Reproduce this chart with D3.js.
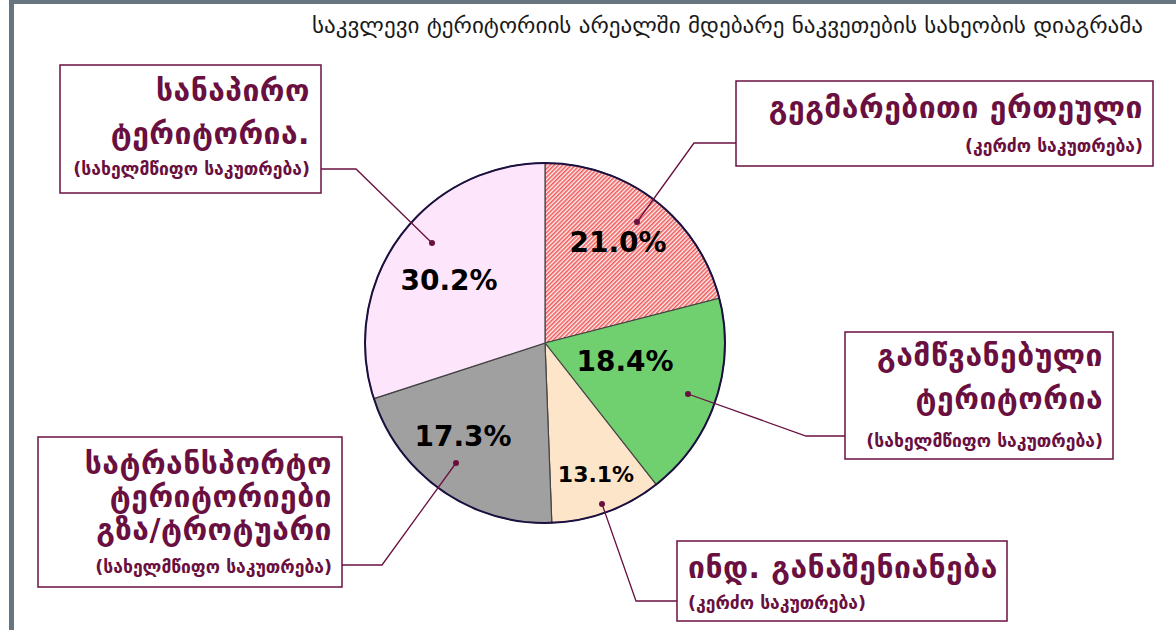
<!DOCTYPE html>
<html>
<head>
<meta charset="utf-8">
<script src="https://cdn.jsdelivr.net/npm/d3@7"></script>
<style>
  body { margin: 0; background: #fff; }
  svg { display: block; font-family: "DejaVu Sans", sans-serif; }
</style>
</head>
<body>
<script>
// chart data, clockwise from 12 o'clock
var categories = ["გეგმარებითი ერთეული", "გამწვანებული ტერიტორია", "ინდ. განაშენიანება",
                  "სატრანსპორტო ტერიტორიები", "სანაპირო ტერიტორია"];
var shares = [21.0, 18.4, 10.0, 20.6, 30.0];   // slice sizes as drawn
var pctLabels = ["21.0%", "18.4%", "13.1%", "17.3%", "30.2%"];
var sliceColors = ["url(#hatch)", "#70d070", "#fde5c9", "#a0a0a0", "#fde6fb"];

var titleText = "საკვლევი ტერიტორიის არეალში მდებარე ნაკვეთების სახეობის დიაგრამა";

var boxTitles = [
  ["გეგმარებითი ერთეული"],
  ["გამწვანებული", "ტერიტორია"],
  ["ინდ. განაშენიანება"],
  ["სატრანსპორტო", "ტერიტორიები", "გზა/ტროტუარი"],
  ["სანაპირო", "ტერიტორია."]
];
var boxNotes = ["(კერძო საკუთრება)", "(სახელმწიფო საკუთრება)", "(კერძო საკუთრება)",
                "(სახელმწიფო საკუთრება)", "(სახელმწიფო საკუთრება)"];

var width = 1176, height = 630;
var cx = 545, cy = 343, radius = 180;
var ink = "#6a1040";

var svg = d3.select("body").append("svg")
  .attr("width", width)
  .attr("height", height);

// hatch for the first slice
var pat = svg.append("defs").append("pattern")
  .attr("id", "hatch")
  .attr("patternUnits", "userSpaceOnUse")
  .attr("width", 3).attr("height", 3)
  .attr("patternTransform", "rotate(-45)");
pat.append("rect").attr("width", 3).attr("height", 3).attr("fill", "#fff4f4");
pat.append("rect").attr("width", 3).attr("height", 1.6).attr("fill", "#f05a5a");

// frame: left and top grey bars
svg.append("rect").attr("x", 9).attr("y", 0).attr("width", 5).attr("height", height).attr("fill", "#66757f");
svg.append("rect").attr("x", 9).attr("y", 0).attr("width", width - 9).attr("height", 4).attr("fill", "#66757f");

svg.append("text")
  .attr("x", 1143).attr("y", 33)
  .attr("text-anchor", "end")
  .attr("textLength", 831)
  .attr("lengthAdjust", "spacingAndGlyphs")
  .style("font-size", "21px")
  .style("fill", "#1a1a1a")
  .text(titleText);

var pie = d3.pie().sort(null).value(function(d) { return d; });
var arcs = pie(shares);
var arc = d3.arc().innerRadius(0).outerRadius(radius);

var g = svg.append("g").attr("transform", "translate(" + cx + "," + cy + ")");

g.selectAll("path.slice")
  .data(arcs)
  .enter().append("path")
  .attr("class", "slice")
  .attr("d", arc)
  .attr("fill", function(d, i) { return sliceColors[i]; })
  .attr("stroke", "#444")
  .attr("stroke-width", 1.2);

g.append("circle").attr("r", radius).attr("fill", "none")
  .attr("stroke", "#1c1040").attr("stroke-width", 2);

// percent labels
var pctPos = [[618, 252, 28], [625, 371, 28], [596, 482, 22], [463, 446, 28], [449, 290, 28]];
g.selectAll("text.pct")
  .data(arcs)
  .enter().append("text")
  .attr("class", "pct")
  .attr("x", function(d, i) { return pctPos[i][0] - cx; })
  .attr("y", function(d, i) { return pctPos[i][1] - cy; })
  .attr("text-anchor", "middle")
  .style("font-weight", "bold")
  .style("font-size", function(d, i) { return pctPos[i][2] + "px"; })
  .style("fill", "#000")
  .text(function(d, i) { return pctLabels[i]; });

// callout boxes
var boxes = [
  { r: [736, 81, 1153, 166], anchor: "end", tx: 1143, ys: [118], ny: 152, leader: [[637, 222], [694, 143], [736, 143]] },
  { r: [845, 332, 1113, 459], anchor: "end", tx: 1103, ys: [366, 409], ny: 447, leader: [[688, 394], [806, 436], [845, 436]] },
  { r: [677, 541, 1007, 621], anchor: "start", tx: 688, ys: [578], ny: 609, leader: [[602, 504], [636, 601], [677, 601]] },
  { r: [38, 437, 342, 587], anchor: "end", tx: 332, ys: [474, 507, 540], ny: 573, leader: [[456, 463], [382, 565], [342, 565]] },
  { r: [60, 65, 321, 193], anchor: "end", tx: 310, ys: [101, 144], ny: 175, leader: [[432, 243], [356, 169], [321, 169]] }
];

var line = d3.line();
boxes.forEach(function(b, i) {
  var grp = svg.append("g").attr("class", "callout");
  grp.append("path").attr("d", line(b.leader)).attr("fill", "none")
    .attr("stroke", ink).attr("stroke-width", 1.3);
  grp.append("circle").attr("cx", b.leader[0][0]).attr("cy", b.leader[0][1]).attr("r", 3).attr("fill", ink);
  grp.append("rect")
    .attr("x", b.r[0]).attr("y", b.r[1])
    .attr("width", b.r[2] - b.r[0]).attr("height", b.r[3] - b.r[1])
    .attr("fill", "#fff").attr("stroke", ink).attr("stroke-width", 1.5);
  boxTitles[i].forEach(function(t, j) {
    grp.append("text")
      .attr("x", b.tx).attr("y", b.ys[j])
      .attr("text-anchor", b.anchor)
      .style("font-weight", "bold").style("font-size", "30px")
      .style("letter-spacing", "0.5px").style("fill", ink)
      .text(t);
  });
  grp.append("text")
    .attr("x", b.tx).attr("y", b.ny)
    .attr("text-anchor", b.anchor)
    .style("font-weight", "bold").style("font-size", "17.5px").style("fill", ink)
    .text(boxNotes[i]);
});
</script>
</body>
</html>
